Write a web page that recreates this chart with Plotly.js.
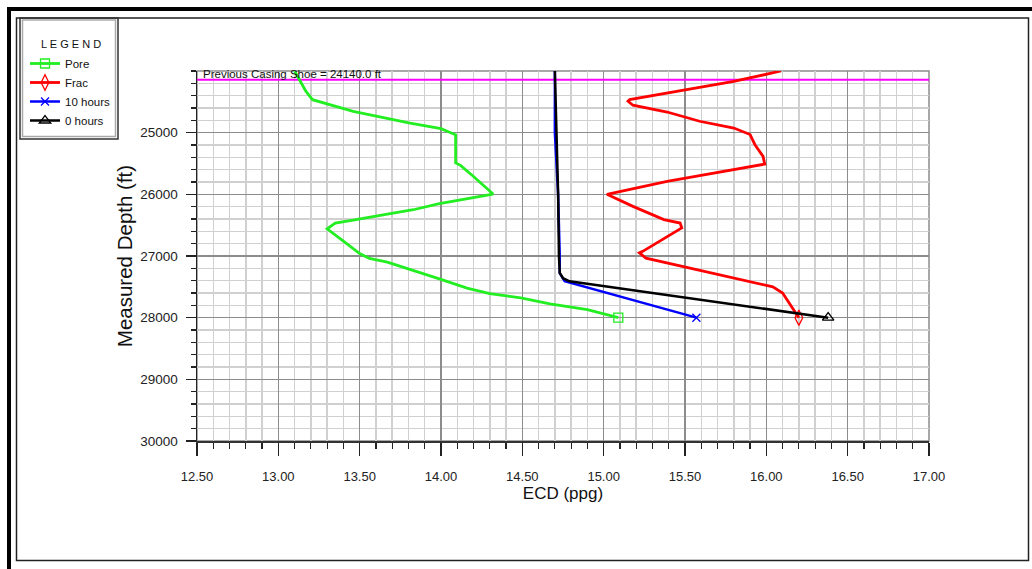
<!DOCTYPE html>
<html>
<head>
<meta charset="utf-8">
<script src="https://cdn.plot.ly/plotly-3.0.1.min.js"></script>
<style>
  html, body { margin: 0; padding: 0; background: #fff; }
  #chart { width: 1032px; height: 569px; }
</style>
</head>
<body>
<div id="chart"></div>
<script>
// ---- Data ----
const seriesNames = ["Pore", "Frac", "10 hours", "0 hours"];

const poreDepth = [24000, 24330, 24465, 24655, 24845, 24935, 25035, 25490, 25530, 25600, 25710, 25995,
                   26150, 26250, 26320, 26420, 26465, 26560, 26760, 26960, 27040, 27100, 27230, 27370,
                   27520, 27610, 27680, 27775, 27870, 27925, 28000];
const porePpg   = [13.10, 13.17, 13.21, 13.46, 13.81, 14.00, 14.09, 14.09, 14.12, 14.15, 14.20, 14.32,
                   13.99, 13.83, 13.67, 13.46, 13.35, 13.30, 13.40, 13.50, 13.56, 13.67, 13.83, 13.99,
                   14.16, 14.30, 14.49, 14.67, 14.90, 14.98, 15.09];

const fracDepth = [24000, 24170, 24275, 24360, 24465, 24490, 24555, 24665, 24815, 24925, 25030, 25195,
                   25385, 25510, 25600, 25695, 25790, 26000, 26195, 26410, 26465, 26545, 26925, 26950,
                   27035, 27170, 27355, 27500, 27600, 28000];
const fracPpg   = [16.09, 15.80, 15.59, 15.39, 15.16, 15.15, 15.18, 15.39, 15.59, 15.80, 15.90, 15.93,
                   15.98, 15.99, 15.80, 15.59, 15.39, 15.02, 15.18, 15.37, 15.47, 15.48, 15.24, 15.22,
                   15.26, 15.49, 15.80, 16.04, 16.10, 16.20];

const hours10Depth = [24000, 25000, 26000, 27000, 27280, 27410, 27480, 28000];
const hours10Ppg   = [14.70, 14.70, 14.72, 14.73, 14.73, 14.76, 14.85, 15.57];

const hours0Depth = [24000, 25000, 26000, 27000, 27275, 27360, 27410, 28000];
const hours0Ppg   = [14.70, 14.71, 14.72, 14.725, 14.73, 14.75, 14.79, 16.38];

const casingShoeDepth = 24140.0;
const casingShoeLabel = "Previous Casing Shoe = 24140.0 ft";
const xRange = [12.5, 17.0];
const yRange = [30000, 24000];
const yTickVals = [25000, 26000, 27000, 28000, 29000, 30000];

// ---- Styling ----
const FONT = "'Liberation Sans', Arial, sans-serif";

// paper-coordinate helpers for decorations around the plot (margins l=197, t=71, w=732, h=370)
const px = v => (v - 197) / 732;
const py = v => (441 - v) / 370;

// Marker only at the last (deepest) point: reverse so the visible marker is first (legend picks first color)
function mkTrace(name, xs, ys, color, width, symbol, size) {
  const x = xs.slice().reverse();
  const y = ys.slice().reverse();
  const colors = x.map((_, i) => i === 0 ? color : "rgba(0,0,0,0)");
  return {
    type: "scatter", mode: "lines+markers", name: name,
    x: x, y: y,
    line: { color: color, width: width },
    marker: { symbol: symbol, size: size, color: colors, line: { width: 1.3 } },
    hoverinfo: "x+y+name"
  };
}

const traces = [
  {
    type: "scatter", mode: "lines", x: xRange, y: [casingShoeDepth, casingShoeDepth],
    line: { color: "#ff00ff", width: 2 }, showlegend: false, hoverinfo: "skip"
  },
  mkTrace(seriesNames[0], porePpg, poreDepth, "#22ee22", 2.8, "square-open", 9),
  mkTrace(seriesNames[1], fracPpg, fracDepth, "#ff0000", 2.8, "diamond-tall-open", 11),
  mkTrace(seriesNames[2], hours10Ppg, hours10Depth, "#0000ff", 2.5, "x-thin-open", 8),
  mkTrace(seriesNames[3], hours0Ppg, hours0Depth, "#000000", 2.5, "triangle-up-open", 10)
];

const layout = {
  width: 1032, height: 569,
  margin: { l: 197, r: 103, t: 71, b: 128 },
  paper_bgcolor: "#ffffff", plot_bgcolor: "#ffffff",
  font: { family: FONT, size: 13, color: "#222" },
  showlegend: true,
  legend: {
    x: px(25), y: py(49), xanchor: "left", yanchor: "top",
    bgcolor: "rgba(0,0,0,0)", borderwidth: 0,
    font: { family: FONT, size: 11.5, color: "#111" },
    tracegroupgap: 0
  },
  xaxis: {
    range: xRange, tick0: 12.5, dtick: 0.5, tickformat: ".2f",
    ticks: "outside", ticklen: 13, tickwidth: 1.3, tickcolor: "#222",
    ticklabelstandoff: 9,
    showline: true, linecolor: "#333", linewidth: 2,
    showgrid: true, gridcolor: "#8c8c8c", gridwidth: 1.3,
    zeroline: false,
    minor: { dtick: 0.1, ticks: "outside", ticklen: 6, tickcolor: "#222", tickwidth: 1.2,
             showgrid: true, gridcolor: "#d0d0d0", gridwidth: 1.5 },
    tickfont: { family: FONT, size: 13, color: "#222" },
    title: { text: "ECD (ppg)", font: { family: FONT, size: 17, color: "#111" }, standoff: 3 }
  },
  yaxis: {
    range: yRange, tickmode: "array", tickvals: yTickVals, tickformat: "d",
    ticks: "outside", ticklen: 10, tickwidth: 1.3, tickcolor: "#222",
    ticklabelstandoff: 5,
    showline: true, linecolor: "#222", linewidth: 1.5,
    showgrid: true, gridcolor: "#8c8c8c", gridwidth: 1.3,
    zeroline: false,
    minor: { tickmode: "linear", tick0: 24000, dtick: 200, ticks: "outside", ticklen: 5, tickcolor: "#222", tickwidth: 1.2,
             showgrid: true, gridcolor: "#d0d0d0", gridwidth: 1.5 },
    tickfont: { family: FONT, size: 13.5, color: "#222" },
    title: { text: "Measured Depth (ft)", font: { family: FONT, size: 20.5, color: "#111" }, standoff: 2 }
  },
  annotations: [
    { text: casingShoeLabel, xref: "x", yref: "y", x: xRange[0], y: casingShoeDepth,
      xanchor: "left", yanchor: "bottom", xshift: 4, yshift: -2, showarrow: false,
      font: { family: FONT, size: 11.5, color: "#111" } },
    { text: "L E G E N D", xref: "paper", yref: "paper", x: px(70.5), y: py(44.5),
      xanchor: "center", yanchor: "middle", showarrow: false,
      font: { family: FONT, size: 11, color: "#111" } }
  ],
  shapes: [
    // outer thick black frame
    { type: "rect", xref: "paper", yref: "paper", x0: px(9), x1: px(1045), y0: py(9), y1: py(590),
      line: { color: "#000", width: 4 }, layer: "above" },
    // inner frame
    { type: "rect", xref: "paper", yref: "paper", x0: px(16.5), x1: px(1028.5), y0: py(18), y1: py(560.5),
      line: { color: "#222", width: 1.5 }, layer: "above" },
    // legend box (double line)
    { type: "rect", xref: "paper", yref: "paper", x0: px(20), x1: px(118), y0: py(18), y1: py(139),
      line: { color: "#333", width: 1.5 }, layer: "above" },
    { type: "rect", xref: "paper", yref: "paper", x0: px(22.5), x1: px(115.5), y0: py(20), y1: py(136.5),
      line: { color: "#aaa", width: 1.5 }, layer: "above" },
    // plot frame (top / right)
    { type: "rect", xref: "paper", yref: "paper", x0: 0, x1: 1, y0: 0, y1: 1,
      line: { color: "#8c8c8c", width: 1.5 }, layer: "below" }
  ]
};

Plotly.newPlot("chart", traces, layout, { displayModeBar: false, staticPlot: true });
</script>
</body>
</html>
